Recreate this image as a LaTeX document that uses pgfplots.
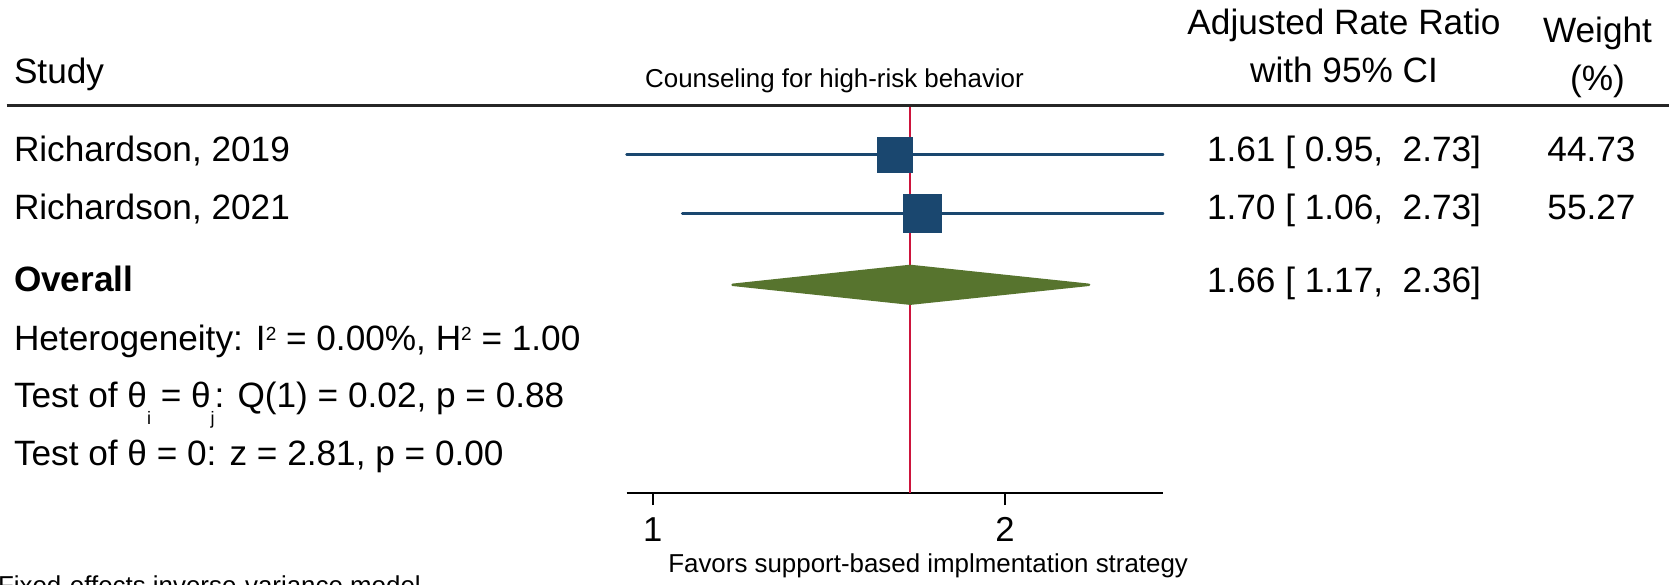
\documentclass[border=0pt]{standalone}
\usepackage{fontspec}
\setmainfont{Liberation Sans}
\usepackage{pgfplots}
\pgfplotsset{compat=1.18}
\definecolor{navy}{RGB}{26,71,111}
\definecolor{dgreen}{RGB}{87,116,46}
\definecolor{redline}{RGB}{205,20,60}
\newcommand\LF{\fontsize{17.6pt}{20pt}\selectfont}
\newcommand\SF{\fontsize{12.95pt}{15pt}\selectfont}
\newcommand\SUP{\raisebox{5.0pt}{\fontsize{9.5pt}{10pt}\selectfont 2}}
\newcommand\SUB[1]{\raisebox{-8.35pt}{\fontsize{9pt}{10pt}\selectfont #1}}
\begin{document}
\begin{tikzpicture}
\useasboundingbox (0,0) rectangle (834.5pt,-292pt);
\clip (0,0) rectangle (834.5pt,-292pt);
\begin{axis}[
  at={(313.3pt,-246.35pt)}, anchor=south west,
  scale only axis, width=268.25pt, height=193.85pt,
  xmode=log, xmin=0.95, xmax=2.73, ymin=0, ymax=387.7,
  axis x line*=bottom, axis y line=none,
  xtick={1,2}, xticklabels={1,2}, minor xtick={}, ytick=\empty,
  tick align=outside, major tick length=6.15pt,
  tick style={line width=1pt, black},
  axis line style={line width=1pt, black},
  xticklabel style={font=\fontsize{17.3pt}{18pt}\selectfont, anchor=base, yshift=-18.25pt, inner sep=0pt},
  clip=false,
]
\addplot[redline, line width=1pt] coordinates {(1.66,0) (1.66,387.7)};
\addplot[navy, line width=1.35pt, line cap=round] coordinates {(0.95,338.0) (2.73,338.0)};
\addplot[navy, line width=1.35pt, line cap=round] coordinates {(1.06,279.1) (2.73,279.1)};
\addplot[only marks, mark=square*, mark size=8.75pt, mark options={fill=navy, draw=navy, line width=0.5pt}] coordinates {(1.61,338.0)};
\addplot[only marks, mark=square*, mark size=9.5pt, mark options={fill=navy, draw=navy, line width=0.5pt}] coordinates {(1.70,279.1)};
\addplot[fill=dgreen, draw=dgreen, line width=1.2pt, line join=round] coordinates {(1.17,207.9) (1.66,226.8) (2.36,207.9) (1.66,189.0)} -- cycle;
\end{axis}
\begin{scope}[x=0.5pt, y=-0.5pt, every node/.style={inner sep=0pt, outer sep=0pt}]
\draw[line width=1.5pt, black!85] (6.7,105) -- (1669,105);
\node[anchor=base west] at (14,83.3) {\LF Study};
\node[anchor=base] at (834.5,87.7) {\SF Counseling for high-risk behavior};
\node[anchor=base] at (1344,34.3) {\LF Adjusted Rate Ratio};
\node[anchor=base] at (1344,82.7) {\LF with 95\% CI};
\node[anchor=base] at (1597.5,42.3) {\LF Weight};
\node[anchor=base] at (1597.5,90) {\LF (\%)};
\node[anchor=base west] at (14,161.5) {\LF Richardson, 2019};
\node[anchor=base west] at (14,219.5) {\LF Richardson, 2021};
\node[anchor=base west] at (14,291.5) {\LF\bfseries Overall};
\node[anchor=base west] at (14,350) {\LF Heterogeneity: I\SUP\ = 0.00\%, H\SUP\ = 1.00};
\node[anchor=base west] at (14,407.3) {\LF Test of θ\SUB{i} = θ\SUB{j}: Q(1) = 0.02, p = 0.88};
\node[anchor=base west] at (14,465.7) {\LF Test of θ = 0: z = 2.81, p = 0.00};
\node[anchor=base] at (1344,161.5) {\LF 1.61 [\ 0.95,\ \ 2.73]};
\node[anchor=base] at (1344,219.5) {\LF 1.70 [\ 1.06,\ \ 2.73]};
\node[anchor=base] at (1344,292.5) {\LF 1.66 [\ 1.17,\ \ 2.36]};
\node[anchor=base] at (1591.5,161.5) {\LF 44.73};
\node[anchor=base] at (1591.5,219.5) {\LF 55.27};
\node[anchor=base west] at (668.3,572) {\SF Favors support-based implmentation strategy};
\node[anchor=base west] at (-2,594.5) {\SF Fixed-effects inverse-variance model};
\end{scope}
\end{tikzpicture}
\end{document}
